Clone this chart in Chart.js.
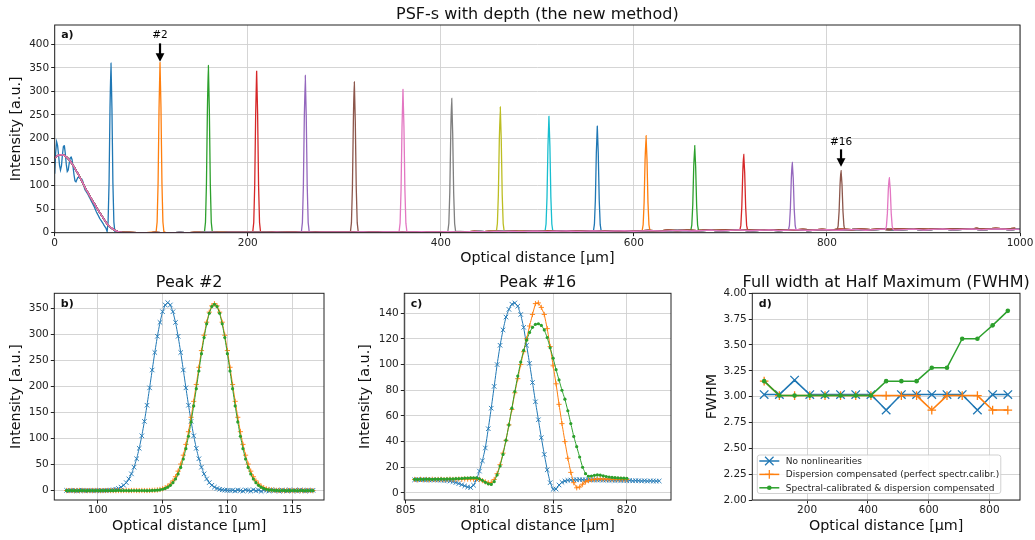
<!DOCTYPE html>
<html>
<head>
<meta charset="utf-8">
<script src="https://cdn.jsdelivr.net/npm/chart.js@4.4.1/dist/chart.umd.min.js"></script>
<style>
  html, body { margin: 0; padding: 0; background: #fff; }
  #wrap { position: relative; width: 1035px; height: 540px; overflow: hidden; background: #fff; }
  canvas { position: absolute; }
</style>
</head>
<body>
<div id="wrap">
  <canvas id="psf" width="1035" height="270" style="left:0px;top:0px"></canvas>
  <canvas id="peak2" width="340" height="272" style="left:0px;top:268px"></canvas>
  <canvas id="peak16" width="340" height="272" style="left:345px;top:268px"></canvas>
  <canvas id="fwhm" width="345" height="272" style="left:690px;top:268px"></canvas>
</div>
<script>
const tab10 = ['#1f77b4', '#ff7f0e', '#2ca02c', '#d62728', '#9467bd', '#8c564b', '#e377c2', '#7f7f7f', '#bcbd22', '#17becf'];

// ---------- a) PSF-s with depth ----------
const psfXTicks = [0, 200, 400, 600, 800, 1000];
const psfYTicks = [0, 50, 100, 150, 200, 250, 300, 350, 400];

const peakPos = [58.3, 109.1, 159.2, 209.2, 259.6, 310.4, 360.8, 411.3, 461.6, 512.0, 562.1, 612.6, 663.0, 713.8, 764.1, 814.6, 864.6];
const peakOffsets = [-4, -3, -2, -1, 0, 1, 2, 3, 4];
const peakValues = [
  [2.5, 22.5, 104.8, 264.6, 360, 264.6, 104.8, 22.5, 2.5],
  [2.5, 22.6, 105.1, 265.3, 361, 265.3, 105.1, 22.6, 2.5],
  [2.5, 22.2, 103.3, 260.9, 355, 260.9, 103.3, 22.2, 2.5],
  [2.4, 21.5, 100.1, 252.8, 344, 252.8, 100.1, 21.5, 2.4],
  [2.6, 21.4, 98.0, 246.0, 334, 246.0, 98.0, 21.4, 2.6],
  [2.6, 20.8, 94.5, 236.0, 320, 236.0, 94.5, 20.8, 2.6],
  [2.8, 20.2, 90.6, 224.8, 304, 224.8, 90.6, 20.2, 2.8],
  [3.0, 19.5, 85.5, 211.0, 285, 211.0, 85.5, 19.5, 3.0],
  [3.2, 19.4, 80.0, 198.0, 267, 198.0, 80.0, 19.4, 3.2],
  [3.5, 18.5, 75.0, 184.0, 247, 184.0, 75.0, 18.5, 3.5],
  [4.0, 17.6, 69.0, 169.0, 226, 169.0, 69.0, 17.6, 4.0],
  [4.5, 16.8, 64.0, 155.0, 206, 155.0, 64.0, 16.8, 4.5],
  [5.0, 16.2, 59.0, 140.0, 185, 140.0, 59.0, 16.2, 5.0],
  [5.5, 15.5, 54.5, 127.0, 166, 127.0, 54.5, 15.5, 5.5],
  [6.0, 14.8, 50.0, 115.0, 149, 115.0, 50.0, 14.8, 6.0],
  [6.5, 14.2, 45.5, 103.0, 132, 103.0, 45.5, 14.2, 6.5],
  [7.0, 13.5, 41.0, 92.0, 117, 92.0, 41.0, 13.5, 7.0]
];

// low-depth autocorrelation hump (first trace has the ripple)
const humpOscStep = 1;
const humpOscY = [125, 170, 193, 185, 165, 143, 133, 142, 165, 183, 185, 168, 145, 130, 133, 147, 158, 161, 155, 140,
  123, 110, 108, 113, 117, 118, 116, 115, 114, 110, 102, 93, 89, 86, 83, 79, 75, 71, 67, 63,
  59, 55, 50, 45, 41, 37, 33, 29, 26, 23, 20, 16, 13, 10, 7];
const humpSmoothX = [0, 2.5, 5, 7.5, 10, 12.5, 15, 17.5, 20, 22.5, 25, 27.5, 30, 32.5, 35, 37.5, 40, 42.5, 45, 47.5, 50, 52.5, 55, 57.5, 60, 62.5, 65, 67.5, 70];
const humpSmoothY = [158, 163, 165, 165.5, 164, 160, 155, 148, 140, 131, 122, 112, 102, 92, 83, 74, 65, 57, 48, 40, 32, 24, 17, 12, 8, 5, 2.8, 1.4, 0.6];

// noise floor
const tailStep = 10;
const tailAStart = 80;
const tailA = [0.1, 0.3, 0.2, 0.1, 0.3, 0.4, 0.2, 0.3, 0.5, 0.3, 0.4, 0.6,
  0.5, 0.8, 0.6, 1.0, 0.7, 0.9, 1.2, 0.8, 1.1, 1.4, 1.0, 1.3, 1.6, 1.1, 1.5, 1.8, 1.3, 1.7, 2.0, 1.5,
  1.9, 2.3, 1.6, 2.2, 2.6, 1.8, 2.5, 3.0, 2.1, 2.8, 3.3, 2.4, 3.1, 3.6, 2.6, 3.4, 3.9, 2.9, 3.7, 4.2,
  3.1, 4.0, 4.6, 3.3, 4.3, 5.0, 3.6, 4.6, 5.3, 3.9, 4.9, 5.7, 4.1, 5.2, 6.0, 4.4, 5.5, 6.3, 4.7, 5.8,
  6.6, 4.9, 6.1, 7.0, 5.2, 6.4, 7.3, 5.4, 6.7, 7.6, 5.6, 7.0, 7.9, 5.9, 7.2, 8.1, 6.1, 7.4, 8.3, 6.3, 7.6];
const tailBStart = 85;
const tailB = [0.3, 0.2, 0.4, 0.2, 0.3, 0.2, 0.5, 0.3, 0.4, 0.6, 0.4, 0.7,
  0.9, 0.6, 1.1, 0.8, 1.3, 0.9, 1.2, 1.5, 1.0, 1.4, 1.7, 1.2, 1.6, 1.9, 1.3, 1.8, 2.1, 1.5, 2.0, 2.3,
  1.7, 2.4, 2.0, 2.7, 2.2, 2.9, 2.4, 3.2, 2.6, 3.4, 2.8, 3.7, 3.0, 3.9, 3.2, 4.1, 3.4, 4.4, 3.6, 4.6,
  3.8, 4.9, 4.0, 5.2, 4.3, 5.4, 4.5, 5.7, 4.8, 5.9, 5.0, 6.2, 5.2, 6.4, 5.5, 6.7, 5.7, 6.9, 5.9, 7.2,
  6.1, 7.4, 6.3, 7.7, 6.5, 7.9, 6.8, 8.2, 7.0, 8.4, 7.2, 8.6, 7.3, 8.8, 7.5, 9.0, 7.6, 9.1, 7.8, 9.2];

// ---------- b) Peak #2 ----------
const p2Start = 97.6, p2Step = 0.2;
const p2XTicks = [100, 105, 110, 115];
const p2YTicks = [0, 50, 100, 150, 200, 250, 300, 350];
const p2Blue = [0.4, -0.3, 0.6, 0.1, -0.5, 0.3, 0.8, -0.2, 0.2, 0.5, -0.4, 0.1, 0.6, -0.1, 0.3,
  0.3, 0.5, 0.9, 1.6, 2.6, 4.2, 6.7, 10.3, 15.4,
  22.5, 32.2, 45.0, 61.2, 81.3, 105.3, 133.0, 164.0, 197.4, 231.7, 265.3, 296.4, 323.1, 343.6, 356.6,
  361,
  356.6, 343.6, 323.1, 296.4, 265.3, 231.7, 197.4, 164.0, 133.0, 105.3, 81.3, 61.2, 45.0, 32.2, 22.5,
  15.4, 10.3, 6.7, 4.2, 2.6, 1.6, 0.9, 0.5, 0.3,
  0.8, -0.6, 1.2, 0.2, -1.0, 1.5, 0.4, -0.8, 1.7, -0.3, 0.9, -1.4, 1.1, 0.5, -0.9, 1.8,
  -0.2, 0.7, -1.2, 1.3, 0.1, -0.7, 1.6, -0.5, 0.9, -1.1, 1.4, 0.3, -0.8, 1.2, -0.4, 0.6];
const p2Orange = [0.2, 0.1, 0.3, 0.0, 0.2, 0.1, 0.3, 0.1, 0.0, 0.2, 0.1, 0.3, 0.2, 0.0, 0.1, 0.2,
  0.3, 0.1, 0.2, 0.0, 0.2, 0.1, 0.3, 0.2, 0.1, 0.2, 0.3, 0.2, 0.1, 0.3, 0.2, 0.2,
  0.3, 0.5, 0.8, 1.3, 2.2, 3.5, 5.6, 8.5, 12.8, 18.7, 26.7, 37.4, 51.0, 68.1, 88.8, 113.2, 140.9, 171.5, 203.9, 236.9, 269.0, 298.4, 323.5, 342.8, 354.9,
  359,
  354.9, 342.8, 323.5, 298.4, 269.0, 236.9, 203.9, 171.5, 140.9, 113.2, 88.8, 68.1, 51.0, 37.4, 26.7, 18.7, 12.8, 8.5, 5.6, 3.5, 2.2, 1.3, 0.8, 0.5, 0.3,
  0.2, 0.1, 0.3, 0.2, 0.1, 0.2, 0.3, 0.1, 0.2, 0.1, 0.3, 0.2, 0.1];
const p2Green = [0.1, 0.2, 0.1, 0.0, 0.2, 0.1, 0.1, 0.2, 0.0, 0.1, 0.2, 0.1, 0.1, 0.0, 0.2, 0.1, 0.2,
  0.1, 0.0, 0.1, 0.2, 0.1, 0.1, 0.2, 0.0, 0.1, 0.2, 0.1, 0.1, 0.2, 0.1, 0.0, 0.1,
  0.3, 0.5, 0.9, 1.6, 2.6, 4.2, 6.6, 10.2, 15.3, 22.3, 31.9, 44.6, 60.7, 80.6, 104.4, 131.9, 162.6, 195.8, 229.8, 263.1, 293.9, 320.4, 340.7, 353.6,
  358,
  353.6, 340.7, 320.4, 293.9, 263.1, 229.8, 195.8, 162.6, 131.9, 104.4, 80.6, 60.7, 44.6, 31.9, 22.3, 15.3, 10.2, 6.6, 4.2, 2.6, 1.6, 0.9, 0.5, 0.3,
  0.1, 0.2, 0.1, 0.1, 0.0, 0.2, 0.1, 0.1, 0.2, 0.1, 0.0, 0.1, 0.2, 0.1];

// ---------- c) Peak #16 ----------
const p16Start = 805.6, p16Step = 0.2;
const p16XTicks = [805, 810, 815, 820];
const p16YTicks = [0, 20, 40, 60, 80, 100, 120, 140];
const p16Blue = [10.2, 10.4, 10.1, 10.3, 10.2, 10.0, 10.2, 10.1, 10.0, 9.9, 9.8, 9.6, 9.3, 8.8, 8.1, 7.3, 6.4, 5.5, 4.6, 4.2,
  6.0, 10.5, 17, 25, 35, 50, 66, 83, 100, 115, 127, 137, 143, 147, 148, 145.5, 139, 129, 115, 101,
  86, 71, 57, 43, 30, 18, 8, 2.8, 3.0, 6.2, 8.3, 9.3, 9.8, 10.1,
  10.3, 10.2, 10.4, 10.3, 10.2, 10.3, 10.1, 10.2, 10.0, 10.1, 9.9, 10.0, 9.8, 9.9, 9.7,
  9.9, 9.6, 9.8, 9.5, 9.7, 9.4, 9.6, 9.5, 9.3, 9.5, 9.2, 9.4, 9.3, 9.2, 9.3];
const p16Orange = [10.5, 10.3, 10.6, 10.4, 10.5, 10.3, 10.6, 10.4, 10.5, 10.6, 10.4, 10.5, 10.7, 10.5, 10.6, 10.8, 10.7, 10.9, 10.8, 10.9,
  10.8, 10.9, 10.5, 9.6, 8.6, 7.9, 8.2, 10.5, 15, 22, 31, 41, 53, 65, 78, 89, 100, 110, 120, 130,
  139, 147.5, 148, 144.5, 139, 128, 114, 99, 85, 69, 54, 40, 27, 16, 8, 4, 4.6, 6.8, 8.6, 9.6,
  10.2, 10.6, 10.8, 10.9,
  10.8, 10.7, 10.8, 10.6, 10.7, 10.5, 10.6, 10.4, 10.5];
const p16Green = [10.6, 10.5, 10.7, 10.6, 10.8, 10.7, 10.6, 10.8, 10.7, 10.9, 10.8, 10.9, 11.0, 10.9, 11.1, 11.2, 11.3, 11.5, 11.6, 11.7,
  11.8, 11.7, 11.0, 9.8, 8.3, 7.1, 6.6, 8.8, 14, 21, 30, 41, 53, 66, 79, 91, 102, 111, 119, 125,
  129, 131.3, 131.8, 130.5, 127, 121, 113, 105, 96, 88, 80, 73, 64, 54, 44, 36, 28, 20, 15, 13.0,
  13.2, 13.7, 14.0, 13.8,
  13.3, 12.8, 12.4, 12.1, 11.9, 11.7, 11.6, 11.5, 11.4];

// ---------- d) FWHM ----------
const fwhmDepth = [59, 109, 159, 209, 259, 310, 360, 410, 460, 510, 560, 610, 660, 710, 760, 810, 860];
const fwhmXTicks = [200, 400, 600, 800];
const fwhmYTicks = [2.00, 2.25, 2.50, 2.75, 3.00, 3.25, 3.50, 3.75, 4.00];
const fwhmNoNonlin = [3.02, 3.02, 3.16, 3.02, 3.02, 3.02, 3.02, 3.02, 2.87, 3.02, 3.02, 3.02, 3.02, 3.02, 2.87, 3.02, 3.02];
const fwhmDispComp = [3.15, 3.01, 3.01, 3.01, 3.01, 3.01, 3.01, 3.01, 3.01, 3.01, 3.01, 2.87, 3.01, 3.01, 3.01, 2.87, 2.87];
const fwhmSpecCal = [3.15, 3.01, 3.01, 3.01, 3.01, 3.01, 3.01, 3.01, 3.15, 3.15, 3.15, 3.28, 3.28, 3.56, 3.56, 3.69, 3.83];
const fwhmLabels = ['No nonlinearities', 'Dispersion compensated (perfect spectr.calibr.)', 'Spectral-calibrated & dispersion compensated'];

// ---------- helpers ----------
Chart.defaults.font.family = '"DejaVu Sans", sans-serif';
Chart.defaults.color = '#222';

function psfSeries(k) {
  const c = peakPos[k];
  const pts = [];
  if (k === 0) {
    humpOscY.forEach((y, i) => pts.push({ x: i * humpOscStep, y }));
  } else {
    humpSmoothY.forEach((y, i) => pts.push({ x: humpSmoothX[i], y }));
  }
  const tail = k % 2 === 0 ? tailA : tailB;
  const t0 = k % 2 === 0 ? tailAStart : tailBStart;
  tail.forEach((y, i) => pts.push({ x: t0 + i * tailStep, y }));
  const kept = pts.filter(p => Math.abs(p.x - c) > 4.5);
  peakOffsets.forEach((d, i) => kept.push({ x: c + d, y: peakValues[k][i] }));
  return kept.sort((a, b) => a.x - b.x);
}

function sampled(start, step, ys) {
  return ys.map((y, i) => ({ x: +(start + i * step).toFixed(2), y }));
}

function axis(o) {
  const horiz = o.pos === 'x';
  return {
    type: 'linear',
    min: o.min,
    max: o.max,
    afterBuildTicks: s => { s.ticks = o.ticks.map(v => ({ value: v })); },
    afterFit: s => { if (horiz) s.height = o.size; else s.width = o.size; },
    grid: { color: '#d0d0d0', lineWidth: 0.9, drawTicks: true, tickLength: 3.5, tickColor: '#222', tickWidth: 1 },
    border: { display: false },
    ticks: {
      color: '#222', font: { size: 10.5 }, padding: horiz ? 0.5 : 2,
      maxRotation: 0, autoSkip: false,
      callback: v => o.fmt ? o.fmt(v) : String(v)
    },
    title: {
      display: true, text: o.title, color: '#111', font: { size: 14.3 },
      padding: horiz ? { top: 0, bottom: o.tpad } : { top: o.tpad, bottom: 0 }
    }
  };
}

function mark(ctx, style, x, y, r, color) {
  ctx.strokeStyle = color;
  ctx.fillStyle = color;
  ctx.lineWidth = 1.2;
  ctx.beginPath();
  if (style === 'crossRot') {
    const d = r * 0.7071;
    ctx.moveTo(x - d, y - d); ctx.lineTo(x + d, y + d);
    ctx.moveTo(x - d, y + d); ctx.lineTo(x + d, y - d);
    ctx.stroke();
  } else if (style === 'cross') {
    ctx.moveTo(x - r, y); ctx.lineTo(x + r, y);
    ctx.moveTo(x, y - r); ctx.lineTo(x, y + r);
    ctx.stroke();
  } else {
    ctx.arc(x, y, r, 0, Math.PI * 2);
    ctx.fill();
  }
}

// frame, title, panel tag, arrows and legend
const decor = {
  id: 'decor',
  afterDraw(chart, args, o) {
    const { ctx, chartArea: a } = chart;
    ctx.save();
    ctx.strokeStyle = '#222';
    ctx.lineWidth = 1;
    ctx.strokeRect(a.left, a.top, a.right - a.left, a.bottom - a.top);

    ctx.fillStyle = '#111';
    ctx.font = '16px "DejaVu Sans"';
    ctx.textAlign = 'center';
    ctx.textBaseline = 'middle';
    if (o.title) ctx.fillText(o.title, (a.left + a.right) / 2, o.titleY);

    ctx.font = 'bold 11px "DejaVu Sans"';
    ctx.textAlign = 'left';
    if (o.tag) ctx.fillText(o.tag, a.left + 6.5, a.top + 10.5);

    (o.arrows || []).forEach(ar => {
      const xs = chart.scales.x, ys = chart.scales.y;
      const px = xs.getPixelForValue(ar.x);
      const yT = ys.getPixelForValue(ar.textY);
      const y0 = ys.getPixelForValue(ar.fromY);
      const y1 = ys.getPixelForValue(ar.toY);
      ctx.fillStyle = '#000';
      ctx.font = '10.5px "DejaVu Sans"';
      ctx.textAlign = 'center';
      ctx.fillText(ar.label, px, yT);
      ctx.strokeStyle = '#000';
      ctx.lineWidth = 2.2;
      ctx.beginPath();
      ctx.moveTo(px, y0);
      ctx.lineTo(px, y1 - 7);
      ctx.stroke();
      ctx.beginPath();
      ctx.moveTo(px - 4.4, y1 - 8.5);
      ctx.lineTo(px + 4.4, y1 - 8.5);
      ctx.lineTo(px, y1);
      ctx.closePath();
      ctx.fill();
    });

    if (o.legend) {
      const lx = a.left + 5, ly = a.bottom - 45, lw = 243.5, lh = 38.5;
      ctx.beginPath();
      ctx.roundRect(lx, ly, lw, lh, 2.5);
      ctx.fillStyle = 'rgba(255,255,255,0.85)';
      ctx.fill();
      ctx.strokeStyle = '#cccccc';
      ctx.lineWidth = 0.9;
      ctx.stroke();
      chart.data.datasets.forEach((ds, i) => {
        const cy = ly + 6 + 13.4 * i;
        ctx.strokeStyle = ds.borderColor;
        ctx.lineWidth = ds.borderWidth;
        ctx.beginPath();
        ctx.moveTo(lx + 2, cy);
        ctx.lineTo(lx + 22, cy);
        ctx.stroke();
        mark(ctx, ds.pointStyle, lx + 12, cy, ds.pointRadius, ds.borderColor);
        ctx.fillStyle = '#222';
        ctx.font = '9px "DejaVu Sans"';
        ctx.textAlign = 'left';
        ctx.textBaseline = 'middle';
        ctx.fillText(ds.label, lx + 28.5, cy + 0.5);
      });
    }
    ctx.restore();
  }
};
Chart.register(decor);

// tiny tension keeps straight segments but avoids the per-pixel fast path
const baseOpts = {
  responsive: false,
  animation: false,
  events: [],
  elements: { line: { tension: 0.0001 } }
};

// ---------- chart a ----------
new Chart(document.getElementById('psf'), {
  type: 'line',
  data: {
    datasets: peakPos.map((c, k) => ({
      data: psfSeries(k),
      borderColor: tab10[k % 10],
      borderWidth: 1.3,
      pointRadius: 0,
      fill: false,
      order: -k
    }))
  },
  options: {
    ...baseOpts,
    layout: { padding: { top: 25, right: 15, left: 0, bottom: 0 } },
    plugins: {
      legend: { display: false },
      tooltip: { enabled: false },
      decor: {
        title: 'PSF-s with depth (the new method)', titleY: 14.6, tag: 'a)',
        arrows: [
          { label: '#2', x: 109.1, textY: 419, fromY: 402, toY: 363 },
          { label: '#16', x: 814.6, textY: 192, fromY: 177, toY: 140 }
        ]
      }
    },
    scales: {
      x: axis({ pos: 'x', min: 0, max: 1000, ticks: psfXTicks, size: 37.3, title: 'Optical distance [μm]', tpad: 2.9 }),
      y: axis({ pos: 'y', min: 0, max: 441, ticks: psfYTicks, size: 54.7, title: 'Intensity [a.u.]', tpad: 8.1 })
    }
  }
});

// ---------- charts b, c ----------
function peakChart(id, title, tag, blue, orange, green, start, step, xr, yr, xt, yt, yw, rightPad, ytp) {
  new Chart(document.getElementById(id), {
    type: 'line',
    data: {
      datasets: [
        { data: sampled(start, step, blue), borderColor: tab10[0], borderWidth: 1, pointStyle: 'crossRot',
          pointRadius: 3.2, pointBorderWidth: 0.9, pointBorderColor: tab10[0], pointBackgroundColor: tab10[0], order: 0 },
        { data: sampled(start, step, orange), borderColor: tab10[1], borderWidth: 1, pointStyle: 'cross',
          pointRadius: 2.6, pointBorderWidth: 0.9, pointBorderColor: tab10[1], pointBackgroundColor: tab10[1], order: -1 },
        { data: sampled(start, step, green), borderColor: tab10[2], borderWidth: 1, pointStyle: 'circle',
          pointRadius: 1.6, pointBorderWidth: 0, pointBorderColor: tab10[2], pointBackgroundColor: tab10[2], order: -2 }
      ]
    },
    options: {
      ...baseOpts,
      layout: { padding: { top: 25.3, right: rightPad, left: 0, bottom: 0 } },
      plugins: {
        legend: { display: false },
        tooltip: { enabled: false },
        decor: { title, titleY: 14.7, tag }
      },
      scales: {
        x: axis({ pos: 'x', min: xr[0], max: xr[1], ticks: xt, size: 40, title: 'Optical distance [μm]', tpad: 4.7 }),
        y: axis({ pos: 'y', min: yr[0], max: yr[1], ticks: yt, size: yw, title: 'Intensity [a.u.]', tpad: ytp })
      }
    }
  });
}

peakChart('peak2', 'Peak #2', 'b)', p2Blue, p2Orange, p2Green, p2Start, p2Step,
  [96.65, 117.45], [-18, 379], p2XTicks, p2YTicks, 54.3, 16, 7.4);
peakChart('peak16', 'Peak #16', 'c)', p16Blue, p16Orange, p16Green, p16Start, p16Step,
  [804.9, 823.0], [-5.5, 155.5], p16XTicks, p16YTicks, 59.3, 14, 12.1);

// ---------- chart d ----------
new Chart(document.getElementById('fwhm'), {
  type: 'line',
  data: {
    datasets: [
      { label: fwhmLabels[0], data: fwhmDepth.map((x, i) => ({ x, y: fwhmNoNonlin[i] })), borderColor: tab10[0], borderWidth: 1.5,
        pointStyle: 'crossRot', pointRadius: 6, pointBorderWidth: 1.3, pointBorderColor: tab10[0], pointBackgroundColor: tab10[0], order: 0 },
      { label: fwhmLabels[1], data: fwhmDepth.map((x, i) => ({ x, y: fwhmDispComp[i] })), borderColor: tab10[1], borderWidth: 1.5,
        pointStyle: 'cross', pointRadius: 4.3, pointBorderWidth: 1.3, pointBorderColor: tab10[1], pointBackgroundColor: tab10[1], order: -1 },
      { label: fwhmLabels[2], data: fwhmDepth.map((x, i) => ({ x, y: fwhmSpecCal[i] })), borderColor: tab10[2], borderWidth: 1.5,
        pointStyle: 'circle', pointRadius: 2.3, pointBorderWidth: 0, pointBorderColor: tab10[2], pointBackgroundColor: tab10[2], order: -2 }
    ]
  },
  options: {
    ...baseOpts,
    layout: { padding: { top: 25.3, right: 15, left: 0, bottom: 0 } },
    plugins: {
      legend: { display: false },
      tooltip: { enabled: false },
      decor: { title: 'Full width at Half Maximum (FWHM)', titleY: 15, tag: 'd)', legend: true }
    },
    scales: {
      x: axis({ pos: 'x', min: 20, max: 900, ticks: fwhmXTicks, size: 40, title: 'Optical distance [μm]', tpad: 4.7 }),
      y: axis({ pos: 'y', min: 2, max: 4, ticks: fwhmYTicks, size: 62.3, title: 'FWHM', tpad: 13.7, fmt: v => v.toFixed(2) })
    }
  }
});
</script>
</body>
</html>
